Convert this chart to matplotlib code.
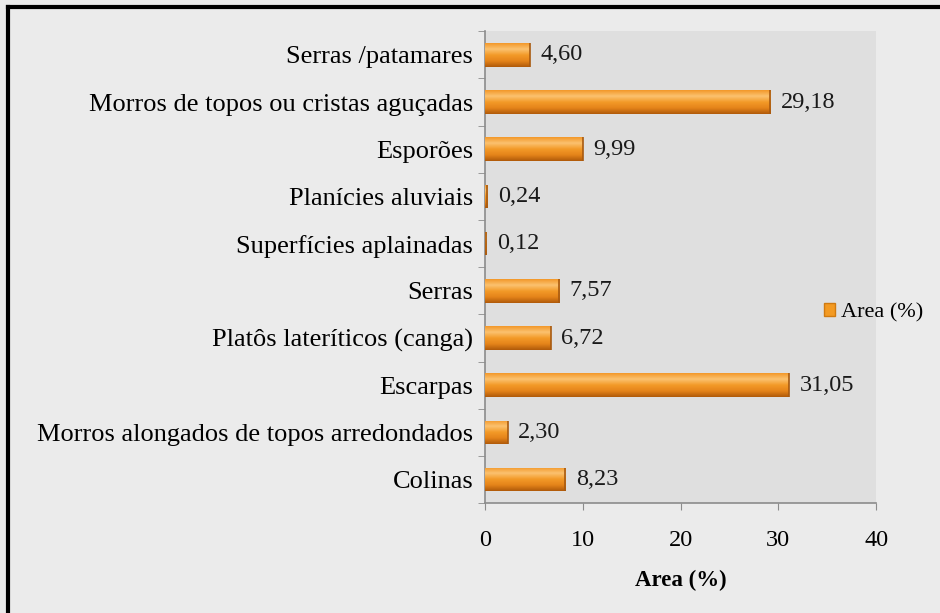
import numpy as np
import matplotlib
matplotlib.use('Agg')
import matplotlib.pyplot as plt
from matplotlib.lines import Line2D
from matplotlib.colors import LinearSegmentedColormap
from matplotlib.patches import Patch

plt.rcParams['font.family'] = ['Liberation Serif', 'DejaVu Serif']

categories = ['Colinas',
              'Morros alongados de topos arredondados',
              'Escarpas',
              'Platôs lateríticos (canga)',
              'Serras',
              'Superfícies aplainadas',
              'Planícies aluviais',
              'Esporões',
              'Morros de topos ou cristas aguçadas',
              'Serras /patamares']
values = [8.23, 2.30, 31.05, 6.72, 7.57, 0.12, 0.24, 9.99, 29.18, 4.60]
xticks = [0, 10, 20, 30, 40]
series_name = 'Area (%)'

fig = plt.figure(figsize=(9.4, 6.13), dpi=100)
fig.patch.set_facecolor('#ebebeb')
ax = fig.add_axes([0.516, 0.179, 0.416, 0.770])
ax.set_facecolor('#dfdfdf')

y = np.arange(len(categories))
bars = ax.barh(y, values, height=0.5, color='#f39a22', zorder=2)

# vertical orange gradient on each bar
grad_cmap = LinearSegmentedColormap.from_list(
    'orange', ['#b05a0a', '#e5841a', '#f39a28', '#fbc270', '#f3982a'])
grad = np.linspace(0, 1, 64).reshape(-1, 1)
for b in bars:
    x0, y0 = b.get_x(), b.get_y()
    w, h = b.get_width(), b.get_height()
    im = ax.imshow(grad, cmap=grad_cmap, aspect='auto', origin='lower',
                   extent=[x0, x0 + w, y0, y0 + h], zorder=3)
    im.set_clip_path(b)
    ax.plot([x0 + w, x0 + w], [y0, y0 + h], color='#a85a10', lw=1.2,
            zorder=4, solid_capstyle='butt')

for yi, v in zip(y, values):
    ax.text(v + 1.1, yi, ('%.2f' % v).replace('.', ','), va='center',
            ha='left', fontsize=17.5, color='#1a1a1a', zorder=5)

ax.set_xlim(0, 40)
ax.set_ylim(-0.5, len(categories) - 0.5)
ax.set_xticks(xticks)
ax.set_xticklabels([str(t) for t in xticks], fontsize=17.5)
ax.set_yticks(y)
ax.set_yticklabels(categories, fontsize=19)
ax.set_yticks(np.arange(len(categories) + 1) - 0.5, minor=True)
ax.tick_params(axis='y', which='major', length=0, pad=8.5)
ax.tick_params(axis='y', which='minor', length=5, color='#8c8c8c')
ax.tick_params(axis='x', length=5, color='#8c8c8c', pad=14)
ax.set_xlabel(series_name, fontsize=16.5, fontweight='bold', labelpad=14)

for s in ['top', 'right']:
    ax.spines[s].set_visible(False)
for s in ['left', 'bottom']:
    ax.spines[s].set_color('#8c8c8c')
    ax.spines[s].set_linewidth(1.2)

handle = Patch(facecolor='#f39a22', edgecolor='#d07a10')
fig.legend([handle], [series_name], loc='center left',
           bbox_to_anchor=(0.860, 0.49), frameon=False, fontsize=16,
           handlelength=0.5, handleheight=0.5, handletextpad=0.25,
           borderpad=0.2)

# outer border (top and left only)
fig.add_artist(Line2D([0.009, 0.009], [0, 0.988], transform=fig.transFigure,
                      color='black', lw=3))
fig.add_artist(Line2D([0.009, 1], [0.988, 0.988], transform=fig.transFigure,
                      color='black', lw=3))

fig.savefig('out.png', dpi=100, facecolor=fig.get_facecolor())
